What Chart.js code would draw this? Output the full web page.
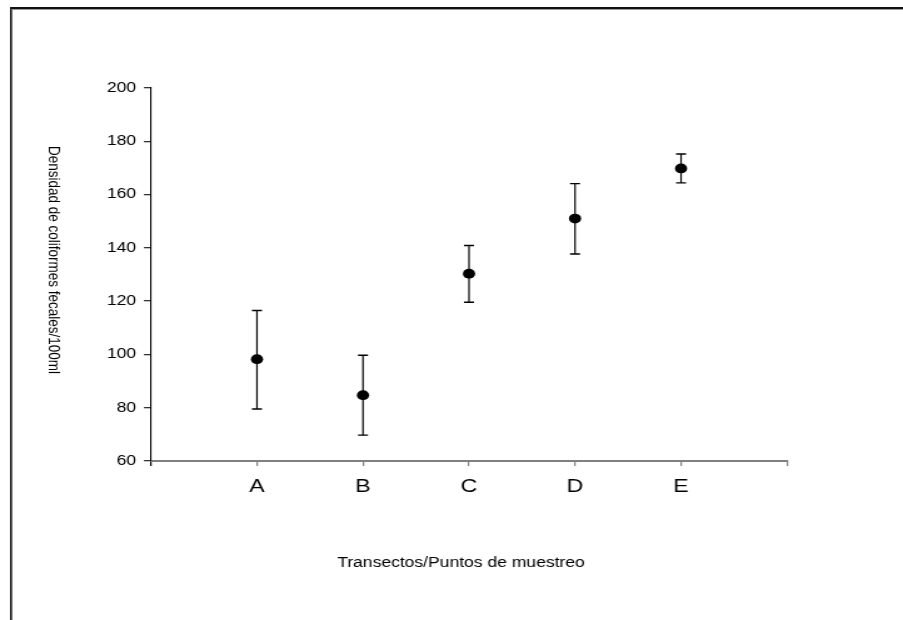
<!DOCTYPE html>
<html>
<head>
<meta charset="utf-8">
<script src="https://cdn.jsdelivr.net/npm/chart.js@4.4.1/dist/chart.umd.min.js"></script>
<style>
  html, body { margin: 0; padding: 0; background: #fff; overflow: hidden; }
  #wrap { position: absolute; left: 0; top: 0; width: 722px; height: 620px;
          transform: scaleX(1.2507); transform-origin: 0 0; }
</style>
</head>
<body>
<div id="wrap"><canvas id="c"></canvas></div>
<script>
// ---- data ----
const categories = ['A', 'B', 'C', 'D', 'E'];
const means      = [98.2, 84.7, 130.3, 151.0, 169.8];
const errUpper   = [116.5, 99.7, 140.9, 164.1, 175.2];
const errLower   = [79.5, 69.7, 119.6, 137.7, 164.4];
const yTicks     = [60, 80, 100, 120, 140, 160, 180, 200];
const xTitle = 'Transectos/Puntos de muestreo';
const yTitle = 'Densidad de coliformes fecales/100ml';

const FONT = 'Arial, "Liberation Sans", sans-serif';
const points = means.map((m, i) => ({ x: i + 1, y: m }));

const frameAndTitles = {
  id: 'frameAndTitles',
  beforeDraw(chart) {
    const ctx = chart.ctx;
    ctx.save();
    ctx.fillStyle = '#fff';
    ctx.fillRect(0, 0, chart.width, chart.height);
    ctx.fillStyle = '#111';
    ctx.fillRect(8, 7, chart.width, 2);
    ctx.fillRect(8, 7, 1.6, chart.height);
    ctx.fillStyle = '#999';
    ctx.fillRect(9.6, 9, chart.width, 1);
    ctx.restore();
  },
  afterDraw(chart) {
    const ctx = chart.ctx;
    ctx.save();
    ctx.fillStyle = '#000';
    ctx.font = '14px ' + FONT;
    ctx.textAlign = 'center';
    ctx.textBaseline = 'alphabetic';
    ctx.fillText(xTitle, 368.6, 566.5);
    ctx.translate(42.8, 260);
    ctx.rotate(Math.PI / 2);
    ctx.font = '13.5px ' + FONT;
    ctx.textBaseline = 'middle';
    ctx.fillText(yTitle, 0, 0);
    ctx.restore();
  }
};

const errorBars = {
  id: 'errorBars',
  beforeDatasetsDraw(chart) {
    const ctx = chart.ctx;
    const xs = chart.scales.x, ys = chart.scales.y;
    ctx.save();
    ctx.strokeStyle = '#000';
    means.forEach((m, i) => {
      const px = xs.getPixelForValue(i + 1);
      const pu = ys.getPixelForValue(errUpper[i]);
      const pl = ys.getPixelForValue(errLower[i]);
      ctx.lineWidth = 1.2;
      ctx.beginPath();
      ctx.moveTo(px, pu); ctx.lineTo(px, pl);
      ctx.stroke();
      ctx.lineWidth = 1.4;
      ctx.beginPath();
      ctx.moveTo(px - 4, pu); ctx.lineTo(px + 4, pu);
      ctx.moveTo(px - 4, pl); ctx.lineTo(px + 4, pl);
      ctx.stroke();
    });
    ctx.restore();
  }
};

new Chart(document.getElementById('c'), {
  type: 'scatter',
  data: {
    datasets: [{
      data: points,
      pointRadius: 4.9,
      pointHoverRadius: 4.9,
      pointBackgroundColor: '#000',
      pointBorderColor: '#000',
      pointBorderWidth: 0,
      showLine: false
    }]
  },
  options: {
    responsive: true,
    maintainAspectRatio: false,
    animation: false,
    devicePixelRatio: 1,
    events: [],
    layout: { padding: { left: 0, top: 88, right: 92.7, bottom: 0 } },
    plugins: { legend: { display: false }, tooltip: { enabled: false } },
    scales: {
      x: {
        type: 'linear',
        min: 0, max: 6,
        afterFit(s) { s.height = 159; },
        afterBuildTicks(s) { s.ticks = [0, 1, 2, 3, 4, 5, 6].map(v => ({ value: v })); },
        ticks: {
          callback: v => categories[v - 1] || '',
          font: { family: FONT, size: 18.5 },
          color: '#000',
          padding: 9.5,
          maxRotation: 0,
          autoSkip: false
        },
        grid: {
          drawOnChartArea: false,
          drawTicks: true,
          tickLength: 5,
          lineWidth: 1.2,
          color: ctx => (ctx.tick && ctx.tick.value === 0) ? '#000' : '#808080'
        },
        border: { display: true, color: '#808080', width: 2 }
      },
      y: {
        type: 'linear',
        min: 60, max: 200,
        afterFit(s) { s.width = 120.7; },
        afterBuildTicks(s) { s.ticks = yTicks.map(v => ({ value: v })); },
        ticks: {
          font: { family: FONT, size: 14 },
          color: '#000',
          padding: 6.2
        },
        grid: {
          drawOnChartArea: false,
          drawTicks: true,
          tickLength: 5.6,
          lineWidth: 1.3,
          color: '#333'
        },
        border: { display: true, color: '#000', width: 1.1 }
      }
    }
  },
  plugins: [frameAndTitles, errorBars]
});
</script>
</body>
</html>
